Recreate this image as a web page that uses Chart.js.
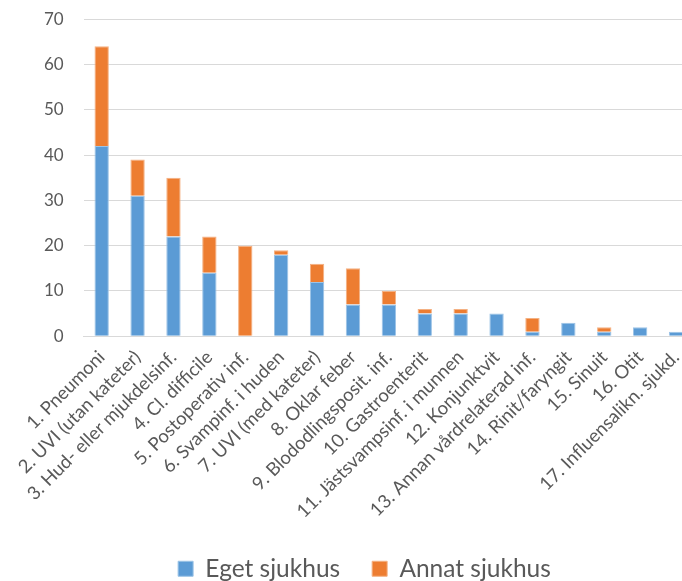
<!DOCTYPE html>
<html>
<head>
<meta charset="utf-8">
<script src="https://cdn.jsdelivr.net/npm/chart.js@4/dist/chart.umd.min.js"></script>
<style>
html,body{margin:0;padding:0;background:#fff;overflow:hidden;}
#wrap{width:682px;height:581px;overflow:hidden;}
</style>
</head>
<body>
<div id="wrap"><canvas id="c" width="694" height="581"></canvas></div>
<script>
const categories = ["1. Pneumoni","2. UVI (utan kateter)","3. Hud- eller mjukdelsinf.","4. Cl. difficile","5. Postoperativ inf.","6. Svampinf. i huden","7. UVI (med kateter)","8. Oklar feber","9. Blododlingsposit. inf.","10. Gastroenterit","11. Jästsvampsinf. i munnen","12. Konjunktvit","13. Annan vårdrelaterad inf.","14. Rinit/faryngit","15. Sinuit","16. Otit","17. Influensalikn. sjukd."];
const egetSjukhus = [42,31,22,14,0,18,12,7,7,5,5,5,1,3,1,2,1];
const annatSjukhus = [22,8,13,8,20,1,4,8,3,1,1,0,3,0,1,0,0];
const yTicks = [0,10,20,30,40,50,60,70];

Chart.defaults.font.family = "Lato, 'Open Sans', sans-serif";
Chart.defaults.color = "#595959";

const legendShrink = {
  id: 'legendShrink',
  beforeLayout(chart) {
    const lg = chart.legend;
    if (lg && !lg._patched) {
      const f = lg.fit;
      lg.fit = function () { f.call(this); this.height -= 10; };
      lg._patched = true;
    }
  }
};

new Chart(document.getElementById('c'), {
  type: 'bar',
  data: {
    labels: categories,
    datasets: [
      {label: "Eget sjukhus", data: egetSjukhus, backgroundColor: "#5b9bd5", borderColor: "#9cc3e6", borderWidth: 1, barPercentage: 0.4, categoryPercentage: 1},
      {label: "Annat sjukhus", data: annatSjukhus, backgroundColor: "#ed7d31", borderColor: "#f4b183", borderWidth: 1, barPercentage: 0.4, categoryPercentage: 1}
    ]
  },
  options: {
    responsive: false,
    animation: false,
    layout: {padding: {left: 35, right: 0, top: 0, bottom: 0}},
    plugins: {
      legend: {
        position: 'bottom',
        labels: {font: {size: 24.5}, boxWidth: 15, boxHeight: 15, padding: 32, color: "#595959"}
      },
      tooltip: {enabled: false}
    },
    scales: {
      x: {
        stacked: true,
        grid: {display: false},
        border: {color: "#d9d9d9", width: 1},
        ticks: {autoSkip: false, maxRotation: 45, minRotation: 45, font: {size: 18.5}, color: "#595959", padding: 2}
      },
      y: {
        stacked: true,
        min: 0, max: 70,
        afterBuildTicks: (axis) => { axis.ticks = yTicks.map(v => ({value: v})); },
        grid: {color: "#d9d9d9", drawTicks: true, tickLength: 11, tickColor: "rgba(0,0,0,0)"},
        border: {display: false},
        ticks: {font: {size: 17}, color: "#595959", padding: 9}
      }
    }
  },
  plugins: [legendShrink]
});
</script>
</body>
</html>
